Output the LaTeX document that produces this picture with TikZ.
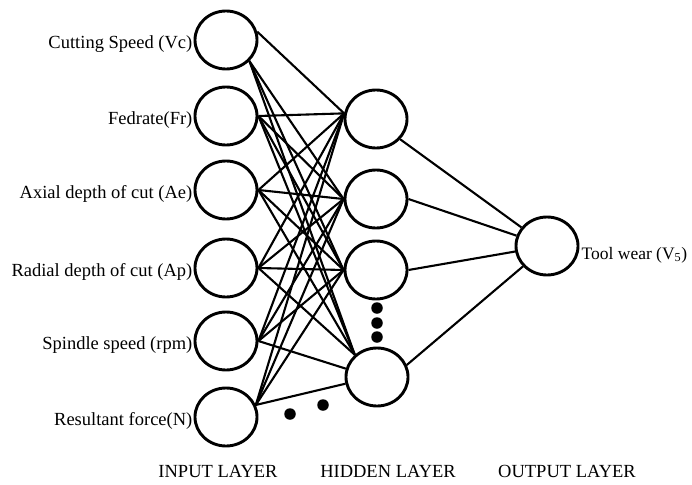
\documentclass[tikz,border=0pt]{standalone}
\usepackage{fontspec}
\setmainfont{Liberation Serif}
\usetikzlibrary{shapes.geometric}
\begin{document}
\begin{tikzpicture}[x=1pt,y=-1pt,
  neuron/.style={ellipse,draw,line width=2.9pt,minimum width=62pt,minimum height=58pt,inner sep=0pt},
  conn/.style={line width=2.1pt},
  lbl/.style={font=\fontsize{18.5}{20}\selectfont,inner sep=1pt},
  layerlbl/.style={font=\fontsize{18.5}{20}\selectfont,inner sep=0pt},
  dot/.style={circle,fill=black,inner sep=0pt,minimum size=11.5pt}]
\useasboundingbox (0,0) rectangle (692,484);
% input nodes
\node[neuron] (i1) at (226,40) {};
\node[neuron] (i2) at (226,116) {};
\node[neuron] (i3) at (226,190) {};
\node[neuron] (i4) at (226,268) {};
\node[neuron] (i5) at (226,341) {};
\node[neuron] (i6) at (226,417) {};
% hidden nodes
\node[neuron] (h1) at (376,119) {};
\node[neuron] (h2) at (376,199) {};
\node[neuron] (h3) at (376,270) {};
\node[neuron] (h4) at (377,377) {};
% output node
\node[neuron] (o) at (547,246) {};
% connectors input -> hidden
\draw[conn] (i1.15) -- (h1.170);
\foreach \h/\a in {h2/180,h3/180,h4/135} \draw[conn] (i1.-42) -- (\h.\a);
\foreach \i in {i2,i3,i4} {
  \draw[conn] (\i.0) -- (h1.170);
  \draw[conn] (\i.0) -- (h2.180);
  \draw[conn] (\i.0) -- (h3.180);
  \draw[conn] (\i.0) -- (h4.135);
}
\foreach \h/\a in {h1/170,h2/180,h3/180} \draw[conn] (i5.0) -- (\h.\a);
\draw[conn] (i5.0) -- (h4.165);
\foreach \h/\a in {h1/170,h2/180,h3/180} \draw[conn] (i6.22) -- (\h.\a);
\draw[conn] (i6.22) -- (h4.192);
% hidden -> output
\draw[conn] (h1.-40) -- (o);
\draw[conn] (h2.0) -- (o);
\draw[conn] (h3.0) -- (o);
\draw[conn] (h4.22) -- (o);
% dots
\node[dot] (d1) at (377,308) {};
\node[dot] (d2) at (377,323) {};
\node[dot] (d3) at (377,337) {};
\node[dot] (d4) at (290,414) {};
\node[dot] (d5) at (323,405) {};
% labels
\node[lbl,anchor=east] (l1) at ([yshift=-4pt]i1.west) {Cutting Speed (Vc)};
\node[lbl,anchor=east] (l2) at ([yshift=-4pt]i2.west) {Fedrate(Fr)};
\node[lbl,anchor=east] (l3) at ([yshift=-4pt]i3.west) {Axial depth of cut (Ae)};
\node[lbl,anchor=east] (l4) at ([yshift=-4pt]i4.west) {Radial depth of cut (Ap)};
\node[lbl,anchor=east] (l5) at ([yshift=-4pt]i5.west) {Spindle speed (rpm)};
\node[lbl,anchor=east] (l6) at ([yshift=-4pt]i6.west) {Resultant force(N)};
\node[lbl,font=\fontsize{17.5}{19}\selectfont,anchor=west] (lo) at ([xshift=1pt,yshift=-9pt]o.east) {Tool wear (V\textsubscript{5})};
\node[layerlbl] (li) at (218,471) {INPUT LAYER};
\node[layerlbl] (lh) at (388,471) {HIDDEN LAYER};
\node[layerlbl] (lo2) at (567,471) {OUTPUT LAYER};
\end{tikzpicture}
\end{document}
